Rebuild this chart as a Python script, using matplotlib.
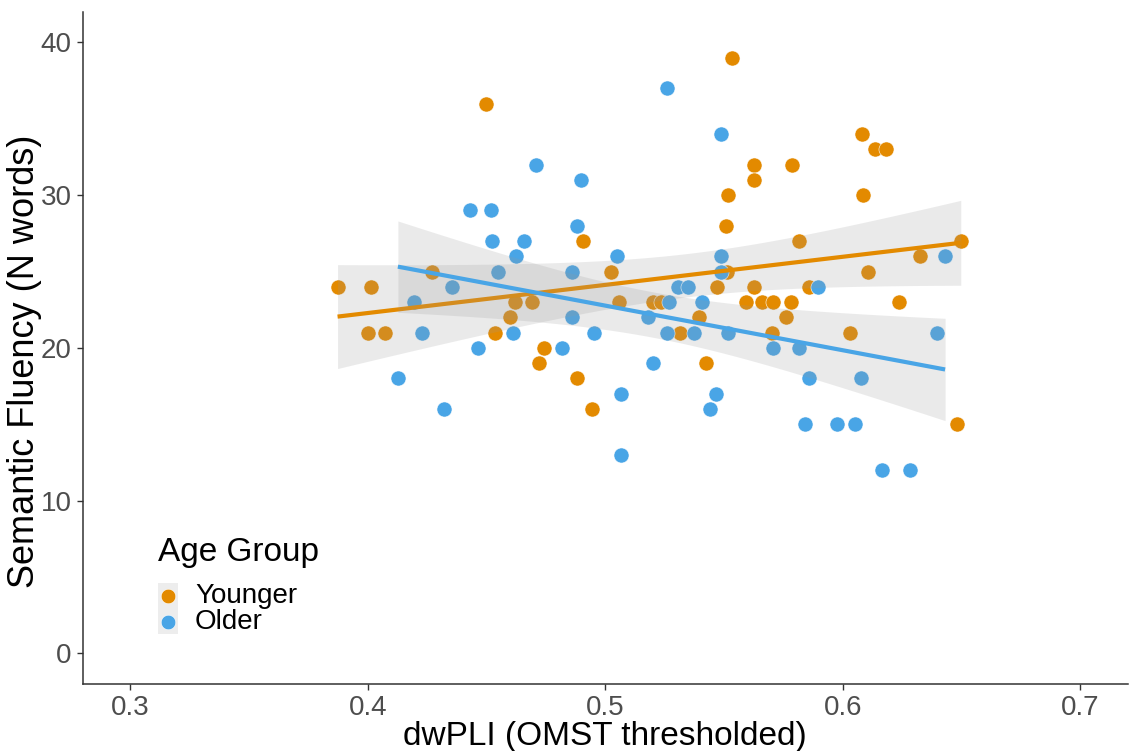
import numpy as np
import matplotlib
matplotlib.use('Agg')
import matplotlib.pyplot as plt
from matplotlib.patches import Rectangle
from matplotlib.lines import Line2D

plt.rcParams['font.family'] = ['Liberation Sans', 'DejaVu Sans']

# Younger group (x = dwPLI, y = N words)
young_x = [0.3873, 0.4002, 0.4012, 0.4074, 0.4270, 0.4496, 0.4537, 0.4600, 0.4621, 0.4691,
           0.4723, 0.4744, 0.4883, 0.4907, 0.4946, 0.5025, 0.5056, 0.5203, 0.5234, 0.5315,
           0.5394, 0.5425, 0.5470, 0.5509, 0.5512, 0.5516, 0.5533, 0.5593, 0.5625, 0.5628,
           0.5628, 0.5658, 0.5704, 0.5707, 0.5761, 0.5783, 0.5786, 0.5815, 0.5860, 0.6029,
           0.6083, 0.6084, 0.6106, 0.6136, 0.6183, 0.6237, 0.6326, 0.6480, 0.6497]
young_y = [24, 21, 24, 21, 25, 36, 21, 22, 23, 23,
           19, 20, 18, 27, 16, 25, 23, 23, 23, 21,
           22, 19, 24, 28, 25, 30, 39, 23, 24, 32,
           31, 23, 21, 23, 22, 23, 32, 27, 24, 21,
           34, 30, 25, 33, 33, 23, 26, 15, 27]

# Older group
old_x = [0.4127, 0.4193, 0.4228, 0.4320, 0.4353, 0.4430, 0.4463, 0.4520, 0.4524, 0.4550,
         0.4610, 0.4626, 0.4658, 0.4708, 0.4816, 0.4858, 0.4860, 0.4883, 0.4900, 0.4951,
         0.5050, 0.5068, 0.5068, 0.5178, 0.5202, 0.5260, 0.5258, 0.5270, 0.5306, 0.5348,
         0.5373, 0.5408, 0.5443, 0.5466, 0.5489, 0.5489, 0.5489, 0.5519, 0.5707, 0.5814,
         0.5842, 0.5860, 0.5895, 0.5977, 0.6053, 0.6079, 0.6166, 0.6285, 0.6399, 0.6431]
old_y = [18, 23, 21, 16, 24, 29, 20, 29, 27, 25,
         21, 26, 27, 32, 20, 22, 25, 28, 31, 21,
         26, 17, 13, 22, 19, 37, 21, 23, 24, 24,
         21, 23, 16, 17, 34, 26, 25, 21, 20, 20,
         15, 18, 24, 15, 15, 18, 12, 12, 21, 26]

groups = ['Younger', 'Older']
colors = {'Younger': '#E38A00', 'Older': '#49A5E6'}
data = {'Younger': (young_x, young_y), 'Older': (old_x, old_y)}


def lm_band(x, y, t=2.01, n_out=80):
    # linear fit with 95% confidence band, like geom_smooth(method='lm')
    x = np.asarray(x, float)
    y = np.asarray(y, float)
    n = len(x)
    b1, b0 = np.polyfit(x, y, 1)
    resid = y - (b0 + b1 * x)
    s = np.sqrt(np.sum(resid ** 2) / (n - 2))
    xs = np.linspace(x.min(), x.max(), n_out)
    ys = b0 + b1 * xs
    se = s * np.sqrt(1.0 / n + (xs - x.mean()) ** 2 / np.sum((x - x.mean()) ** 2))
    return xs, ys, ys - t * se, ys + t * se


fig = plt.figure(figsize=(11.3, 7.51), dpi=100)
ax = fig.add_axes([0.0732, 0.0892, 0.9248, 0.895])

for g in groups:
    gx, gy = data[g]
    ax.scatter(gx, gy, s=118, color=colors[g], edgecolors='white', linewidths=0.4, zorder=2)

z = 3
for g in groups:
    gx, gy = data[g]
    xs, ys, lo, hi = lm_band(gx, gy)
    ax.fill_between(xs, lo, hi, color='#999999', alpha=0.2, linewidth=0, zorder=z)
    ax.plot(xs, ys, color=colors[g], lw=3.0, solid_capstyle='butt', zorder=z + 1)
    z += 2

ax.set_xlim(0.28, 0.72)
ax.set_ylim(-2, 42)
ax.set_xticks([0.3, 0.4, 0.5, 0.6, 0.7])
ax.set_xticklabels(['0.3', '0.4', '0.5', '0.6', '0.7'])
ax.set_yticks([0, 10, 20, 30, 40])

for side in ['top', 'right']:
    ax.spines[side].set_visible(False)
for side in ['left', 'bottom']:
    ax.spines[side].set_color('#333333')
    ax.spines[side].set_linewidth(1.1)
ax.tick_params(axis='both', colors='#333333', labelcolor='#4D4D4D', labelsize=20,
               length=4, width=1.0, pad=4)

ax.set_xlabel('dwPLI (OMST thresholded)', fontsize=24, color='black', labelpad=0)
ax.set_ylabel('Semantic Fluency (N words)', fontsize=26, color='black')
ax.yaxis.set_label_coords(-0.039, 0.48)

# legend, drawn by hand to get the ggplot look
fig.text(158 / 1130, 1 - 553 / 751, 'Age Group', fontsize=24, va='center', ha='left')
fig.patches.append(Rectangle((158 / 1130, 1 - 634 / 751), 20 / 1130, 51 / 751,
                             transform=fig.transFigure, facecolor='#EDEDED',
                             edgecolor='none', zorder=1))
for i, g in enumerate(groups):
    yk = 1 - (596 + 26 * i) / 751
    fig.lines.append(Line2D([168 / 1130], [yk], transform=fig.transFigure, marker='o',
                            markersize=10.5, color=colors[g], markeredgecolor='white',
                            markeredgewidth=0.4, linestyle='none', zorder=2))
    fig.text(195 / 1130, yk, g, fontsize=20, va='center', ha='left')

fig.savefig('out.png', dpi=100)
